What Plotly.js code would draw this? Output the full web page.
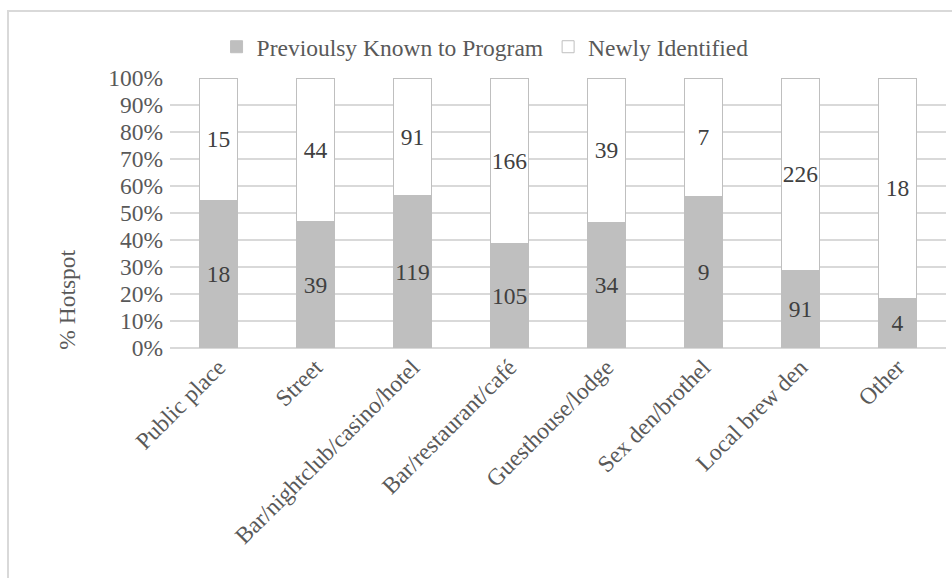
<!DOCTYPE html>
<html>
<head>
<meta charset="utf-8">
<script src="https://cdn.plot.ly/plotly-3.0.1.min.js"></script>
<style>
html,body{margin:0;padding:0;background:#fff;}
#frame{position:absolute;left:7px;top:10px;width:960px;height:600px;border-left:2px solid #d9d9d9;border-top:2px solid #d9d9d9;}
#chart{position:absolute;left:0;top:0;width:952px;height:578px;}
</style>
</head>
<body>
<div id="frame"></div>
<div id="chart"></div>
<script>
var categories = ["Public place","Street","Bar/nightclub/casino/hotel","Bar/restaurant/café","Guesthouse/lodge","Sex den/brothel","Local brew den","Other"];
var knownCounts = [18,39,119,105,34,9,91,4];
var newCounts = [15,44,91,166,39,7,226,18];
var yTickVals = [0,10,20,30,40,50,60,70,80,90,100];
var yTickText = ["0%","10%","20%","30%","40%","50%","60%","70%","80%","90%","100%"];

var fontFam = "'Liberation Serif', serif";
var fs = 23.5;

var traces = [
  {
    type: "bar",
    name: "Previoulsy Known to Program",
    x: categories,
    y: knownCounts,
    text: knownCounts.map(String),
    textposition: "inside",
    insidetextanchor: "middle",
    textangle: 0,
    constraintext: "none",
    textfont: {family: fontFam, size: fs, color: "#404040"},
    marker: {color: "#bfbfbf", line: {color: "#bfbfbf", width: 1}},
    hoverinfo: "none"
  },
  {
    type: "bar",
    name: "Newly Identified",
    x: categories,
    y: newCounts,
    text: newCounts.map(String),
    textposition: "inside",
    insidetextanchor: "middle",
    textangle: 0,
    constraintext: "none",
    textfont: {family: fontFam, size: fs, color: "#404040"},
    marker: {color: "#ffffff", line: {color: "#bfbfbf", width: 1}},
    hoverinfo: "none"
  }
];

var layout = {
  width: 952,
  height: 578,
  paper_bgcolor: "rgba(0,0,0,0)",
  plot_bgcolor: "rgba(0,0,0,0)",
  margin: {l: 170, r: 6, t: 78, b: 230},
  barmode: "stack",
  barnorm: "percent",
  bargap: 0.6,
  font: {family: fontFam, size: fs, color: "#595959"},
  showlegend: true,
  legend: {
    orientation: "h",
    x: 0.406, xanchor: "center",
    y: 1.115, yanchor: "middle",
    font: {family: fontFam, size: fs, color: "#595959"},
    itemwidth: 30,
    traceorder: "normal"
  },
  xaxis: {
    tickangle: -45,
    showgrid: false,
    showline: false,
    zeroline: false,
    ticks: "",
    tickfont: {family: fontFam, size: fs, color: "#595959"}
  },
  yaxis: {
    range: [0, 100],
    tickvals: yTickVals,
    ticktext: yTickText,
    gridcolor: "#d9d9d9",
    gridwidth: 1.5,
    zeroline: true,
    zerolinecolor: "#d9d9d9",
    zerolinewidth: 1.5,
    showline: false,
    ticks: "",
    ticklabelstandoff: 6,
    tickfont: {family: fontFam, size: fs, color: "#595959"}
  },
  annotations: [
    {
      text: "% Hotspot",
      xref: "paper", yref: "paper",
      x: -0.133, y: 0.178,
      xanchor: "center", yanchor: "middle",
      textangle: -90,
      showarrow: false,
      font: {family: fontFam, size: fs, color: "#595959"}
    }
  ]
};

Plotly.newPlot("chart", traces, layout, {displayModeBar: false, staticPlot: true});
</script>
</body>
</html>
